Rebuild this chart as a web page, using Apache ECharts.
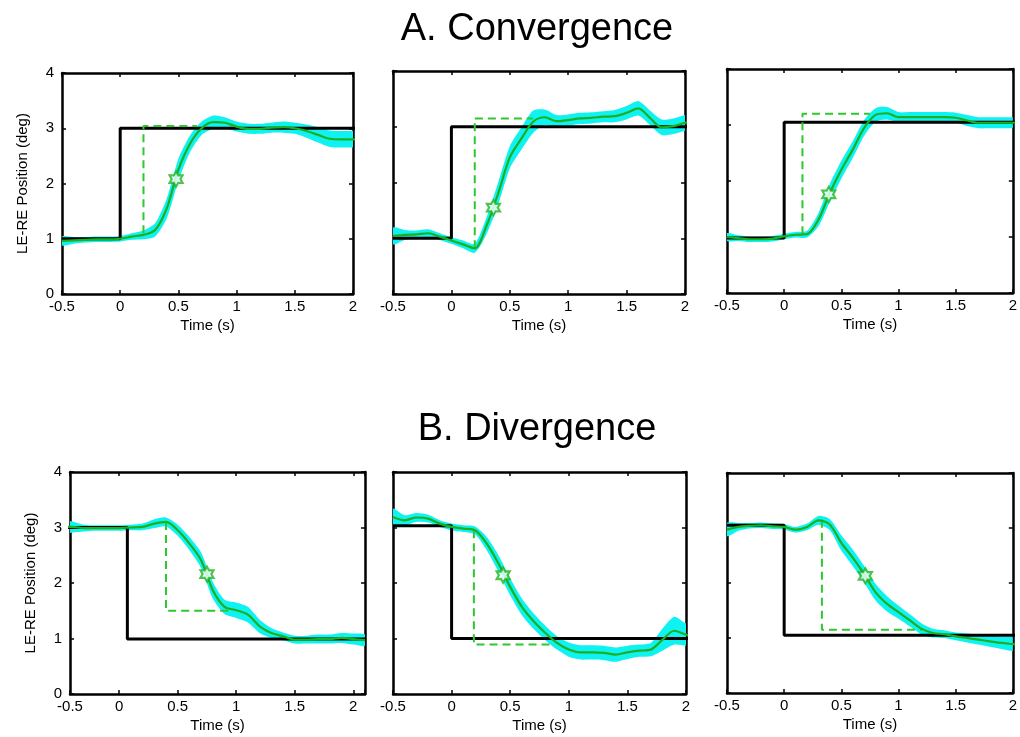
<!DOCTYPE html>
<html>
<head>
<meta charset="utf-8">
<script src="https://cdn.jsdelivr.net/npm/echarts@6/dist/echarts.min.js"></script>
<style>
html, body { margin: 0; background: #fff; }
#chart { width: 1020px; height: 737px; }
</style>
</head>
<body>
<div id="chart"></div>
<script>
// time base (s), shared by all panels
var times = [-0.5, -0.4, -0.3, -0.2, -0.1, 0, 0.1, 0.2, 0.3, 0.4, 0.5, 0.6, 0.7, 0.8, 0.9, 1.0, 1.1, 1.2, 1.3, 1.4, 1.5, 1.6, 1.7, 1.8, 1.9, 2.0, 2.1];

// mean LE-RE position (deg) and half width of the cyan band
var meanA1 = [0.96, 0.97, 0.98, 0.99, 0.99, 1.00, 1.04, 1.07, 1.16, 1.55, 2.25, 2.72, 3.00, 3.11, 3.10, 3.03, 2.99, 2.99, 3.01, 3.02, 3.00, 2.95, 2.88, 2.81, 2.80, 2.80, 2.80];
var bandA1 = [0.08, 0.06, 0.05, 0.05, 0.05, 0.05, 0.06, 0.08, 0.12, 0.18, 0.20, 0.15, 0.12, 0.12, 0.10, 0.09, 0.09, 0.09, 0.09, 0.10, 0.10, 0.12, 0.14, 0.15, 0.15, 0.15, 0.15];
var meanA2 = [1.04, 1.06, 1.07, 1.09, 1.03, 0.96, 0.89, 0.82, 1.22, 1.80, 2.45, 2.79, 3.09, 3.17, 3.10, 3.12, 3.15, 3.16, 3.18, 3.19, 3.25, 3.33, 3.16, 2.99, 3.01, 3.07, 3.10];
var bandA2 = [0.15, 0.09, 0.07, 0.07, 0.06, 0.06, 0.07, 0.08, 0.15, 0.20, 0.20, 0.20, 0.20, 0.14, 0.11, 0.10, 0.10, 0.10, 0.10, 0.11, 0.12, 0.13, 0.13, 0.14, 0.14, 0.14, 0.14];
var meanA3 = [1.00, 0.98, 0.96, 0.96, 0.97, 1.01, 1.04, 1.05, 1.31, 1.79, 2.20, 2.56, 2.95, 3.18, 3.21, 3.14, 3.14, 3.14, 3.14, 3.14, 3.13, 3.08, 3.04, 3.04, 3.04, 3.04, 3.04];
var bandA3 = [0.07, 0.05, 0.05, 0.05, 0.05, 0.05, 0.05, 0.06, 0.12, 0.16, 0.16, 0.15, 0.14, 0.12, 0.11, 0.09, 0.09, 0.09, 0.09, 0.09, 0.09, 0.10, 0.10, 0.10, 0.10, 0.10, 0.10];
var meanB1 = [3.01, 3.01, 2.99, 2.99, 2.99, 2.99, 3.00, 3.01, 3.07, 3.10, 2.95, 2.71, 2.41, 1.87, 1.57, 1.51, 1.43, 1.22, 1.10, 1.04, 0.98, 0.98, 0.99, 0.99, 1.01, 0.99, 0.97];
var bandB1 = [0.12, 0.10, 0.06, 0.05, 0.05, 0.05, 0.05, 0.06, 0.08, 0.08, 0.10, 0.12, 0.14, 0.15, 0.13, 0.14, 0.14, 0.12, 0.09, 0.07, 0.07, 0.07, 0.08, 0.08, 0.09, 0.10, 0.10];
var meanB2 = [3.19, 3.13, 3.18, 3.16, 3.07, 3.01, 2.98, 2.95, 2.71, 2.35, 1.93, 1.57, 1.31, 1.10, 0.92, 0.80, 0.75, 0.75, 0.74, 0.71, 0.75, 0.78, 0.80, 0.98, 1.14, 1.07, 1.05];
var bandB2 = [0.15, 0.09, 0.08, 0.07, 0.06, 0.06, 0.06, 0.07, 0.12, 0.15, 0.15, 0.15, 0.14, 0.13, 0.12, 0.13, 0.13, 0.13, 0.13, 0.13, 0.12, 0.11, 0.12, 0.20, 0.25, 0.20, 0.20];
var meanB3 = [2.97, 3.02, 3.04, 3.05, 3.03, 3.02, 2.97, 3.02, 3.14, 3.06, 2.73, 2.46, 2.16, 1.83, 1.62, 1.47, 1.32, 1.17, 1.09, 1.07, 1.03, 1.00, 0.97, 0.94, 0.91, 0.89, 0.87];
var bandB3 = [0.12, 0.07, 0.05, 0.05, 0.05, 0.05, 0.05, 0.06, 0.08, 0.10, 0.14, 0.15, 0.15, 0.15, 0.14, 0.12, 0.11, 0.10, 0.08, 0.07, 0.07, 0.08, 0.09, 0.10, 0.11, 0.13, 0.13];

// target step (black)
var targetA1 = [[-0.5, 1.0], [0, 1.0], [0, 3.0], [2.1, 3.0]];
var targetA2 = [[-0.5, 1.0], [0, 1.0], [0, 3.0], [2.1, 3.0]];
var targetA3 = [[-0.5, 0.98], [0, 0.98], [0, 3.05], [2.1, 3.05]];
var targetB1 = [[-0.5, 3.0], [0.07, 3.0], [0.07, 0.99], [2.1, 0.99]];
var targetB2 = [[-0.5, 3.03], [0, 3.03], [0, 1.0], [2.1, 1.0]];
var targetB3 = [[-0.5, 3.05], [0, 3.05], [0, 1.05], [2.1, 1.05]];

// latency / amplitude (dashed green)
var dashA1 = [[0.2, 1.1], [0.2, 3.04], [0.66, 3.04]];
var dashA2 = [[0.2, 0.82], [0.2, 3.15], [0.70, 3.15]];
var dashA3 = [[0.16, 1.05], [0.16, 3.2], [0.75, 3.2]];
var dashB1 = [[0.4, 3.1], [0.4, 1.5], [0.95, 1.5]];
var dashB2 = [[0.19, 2.95], [0.19, 0.89], [0.86, 0.89]];
var dashB3 = [[0.33, 3.15], [0.33, 1.15], [1.21, 1.15]];

// half-amplitude point (star)
var starA1 = [0.48, 2.08];
var starA2 = [0.36, 1.55];
var starA3 = [0.39, 1.76];
var starB1 = [0.75, 2.16];
var starB2 = [0.44, 2.14];
var starB3 = [0.71, 2.13];

var xTicks = [-0.5, 0, 0.5, 1, 1.5, 2];
var yTicks = [0, 1, 2, 3, 4];

var FONT = "'Liberation Sans', Arial, sans-serif";
var hexagram = 'path://M0,-10L2.887,-5L8.66,-5L5.77,0L8.66,5L2.887,5L0,10L-2.887,5L-8.66,5L-5.77,0L-8.66,-5L-2.887,-5Z';

var panels = [
  { box: { left: 62, top: 73, width: 291, height: 221 }, xMin: -0.5, xMax: 2, mean: meanA1, band: bandA1, target: targetA1, dash: dashA1, star: starA1, yLabels: true },
  { box: { left: 393, top: 71, width: 292, height: 223 }, xMin: -0.5, xMax: 2, mean: meanA2, band: bandA2, target: targetA2, dash: dashA2, star: starA2, yLabels: false },
  { box: { left: 727, top: 69, width: 287, height: 224 }, xMin: -0.5, xMax: 2, mean: meanA3, band: bandA3, target: targetA3, dash: dashA3, star: starA3, yLabels: false },
  { box: { left: 70, top: 472, width: 295, height: 222 }, xMin: -0.42, xMax: 2.1, mean: meanB1, band: bandB1, target: targetB1, dash: dashB1, star: starB1, yLabels: true },
  { box: { left: 393, top: 472, width: 293, height: 222 }, xMin: -0.5, xMax: 2, mean: meanB2, band: bandB2, target: targetB2, dash: dashB2, star: starB2, yLabels: false },
  { box: { left: 727, top: 473, width: 287, height: 220 }, xMin: -0.5, xMax: 2, mean: meanB3, band: bandB3, target: targetB3, dash: dashB3, star: starB3, yLabels: false }
];

var grids = [], xAxes = [], yAxes = [], series = [];

// cyan band = polygon along mean+band then back along mean-band
function bandRenderer(p) {
  return function (params, api) {
    if (params.dataIndex !== 0) return;
    var pts = [];
    for (var i = 0; i < times.length; i++) {
      pts.push(api.coord([times[i], p.mean[i] + p.band[i]]));
    }
    for (var j = times.length - 1; j >= 0; j--) {
      pts.push(api.coord([times[j], p.mean[j] - p.band[j]]));
    }
    var cs = params.coordSys;
    return {
      type: 'polygon',
      shape: { points: pts, smooth: 0.25 },
      style: { fill: '#0ff2f2' },
      clipPath: { type: 'rect', shape: { x: cs.x, y: cs.y, width: cs.width, height: cs.height } },
      silent: true
    };
  };
}

panels.forEach(function (p, k) {
  grids.push(p.box);
  var frame = { show: true, onZero: false, lineStyle: { color: '#000', width: 2.5 } };
  var tick = { show: true, inside: true, length: 4, lineStyle: { color: '#000', width: 1.5 } };
  // bottom axis with labels
  xAxes.push({
    type: 'value', gridIndex: k, position: 'bottom', min: p.xMin, max: p.xMax,
    interval: p.xMin === -0.5 ? 0.5 : null,
    axisLine: frame, axisTick: tick, splitLine: { show: false },
    axisLabel: {
      color: '#000', fontSize: 15, fontFamily: FONT, margin: 5,
      showMaxLabel: true, showMinLabel: true,
      formatter: function (v) {
        if (v < -0.4) return '-0.5';
        if (v > 2.05) return '';
        return xTicks.indexOf(v) >= 0 ? String(v) : '';
      }
    },
    name: 'Time (s)', nameLocation: 'middle', nameGap: 24,
    nameTextStyle: { color: '#000', fontSize: 15, fontFamily: FONT }
  });
  // top frame
  xAxes.push({
    type: 'value', gridIndex: k, position: 'top', min: p.xMin, max: p.xMax,
    interval: p.xMin === -0.5 ? 0.5 : null,
    axisLine: frame, axisTick: tick, axisLabel: { show: false }, splitLine: { show: false }
  });
  yAxes.push({
    type: 'value', gridIndex: k, position: 'left', min: 0, max: 4, interval: 1,
    axisLine: frame, axisTick: tick, splitLine: { show: false },
    axisLabel: {
      show: p.yLabels, color: '#000', fontSize: 15, fontFamily: FONT, margin: 8,
      formatter: function (v) { return yTicks.indexOf(v) >= 0 ? String(v) : ''; }
    },
    name: p.yLabels ? 'LE-RE Position (deg)' : '', nameLocation: 'middle', nameGap: 32,
    nameTextStyle: { color: '#000', fontSize: 15, fontFamily: FONT }
  });
  yAxes.push({
    type: 'value', gridIndex: k, position: 'right', min: 0, max: 4, interval: 1,
    axisLine: frame, axisTick: tick, axisLabel: { show: false }, splitLine: { show: false }
  });

  var xi = 2 * k, yi = 2 * k;
  var meanPts = times.map(function (t, i) { return [t, p.mean[i]]; });
  var bandPts = times.map(function (t, i) { return [t, p.mean[i] - p.band[i], p.mean[i] + p.band[i]]; });

  series.push({
    type: 'custom', xAxisIndex: xi, yAxisIndex: yi, data: bandPts,
    encode: { x: 0, y: [1, 2] }, renderItem: bandRenderer(p), z: 1, silent: true
  });
  series.push({
    type: 'line', xAxisIndex: xi, yAxisIndex: yi, data: p.target,
    symbol: 'none', lineStyle: { color: '#000', width: 3 }, z: 2
  });
  series.push({
    type: 'line', xAxisIndex: xi, yAxisIndex: yi, data: p.dash,
    symbol: 'none', lineStyle: { color: '#2ec82e', width: 2, type: [8, 5] }, z: 3
  });
  series.push({
    type: 'line', xAxisIndex: xi, yAxisIndex: yi, data: meanPts,
    smooth: 0.3, symbol: 'none', lineStyle: { color: '#1daf1d', width: 2.2 }, z: 4
  });
  series.push({
    type: 'scatter', xAxisIndex: xi, yAxisIndex: yi, data: [p.star],
    symbol: hexagram, symbolSize: [13, 15],
    itemStyle: { color: '#fff', borderColor: '#1fb41f', borderWidth: 2.2 }, z: 5
  });
});

var chart = echarts.init(document.getElementById('chart'), null, { renderer: 'canvas' });
chart.setOption({
  animation: false,
  backgroundColor: '#fff',
  graphic: [
    { type: 'text', x: 537, y: 30, style: { text: 'A. Convergence', font: '38px ' + FONT, fill: '#000', textAlign: 'center', textVerticalAlign: 'middle' } },
    { type: 'text', x: 537, y: 430, style: { text: 'B. Divergence', font: '38px ' + FONT, fill: '#000', textAlign: 'center', textVerticalAlign: 'middle' } }
  ],
  grid: grids,
  xAxis: xAxes,
  yAxis: yAxes,
  series: series
});
</script>
</body>
</html>
